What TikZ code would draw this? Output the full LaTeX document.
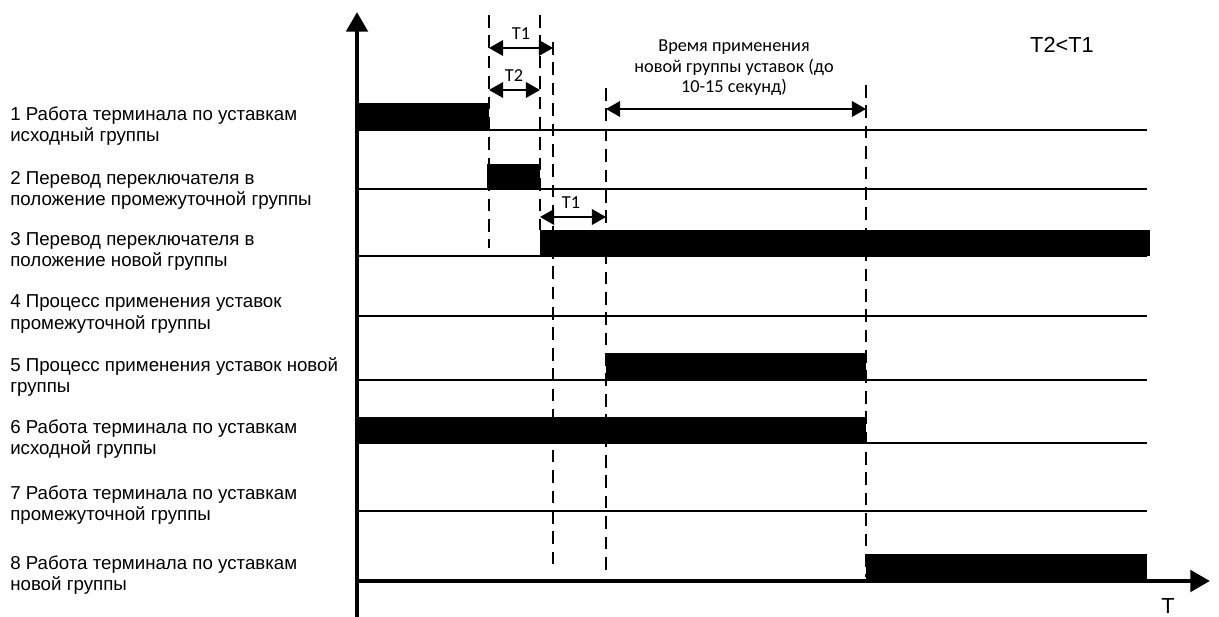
\documentclass[tikz,border=0pt]{standalone}
\usepackage{fontspec}
\setmainfont{Liberation Sans}
\newfontfamily\calfont{Carlito}
\usetikzlibrary{arrows.meta}

\tikzset{
  rowtxt/.style={anchor=west, align=left, inner sep=0pt, font=\fontsize{13.3}{15}\selectfont},
  smalltxt/.style={align=center, inner sep=0pt, font=\calfont\fontsize{13}{14.6}\selectfont},
  timeline/.style={line width=1.3pt},
  marker/.style={line width=1pt, dash pattern=on 9pt off 5.5pt},
  span/.style={line width=1.4pt, {Triangle[length=10pt,width=11pt]}-{Triangle[length=10pt,width=11pt]}},
  axis/.style={line width=3.3pt, -{Triangle[length=14pt,width=15pt]}},
}

\begin{document}
\begin{tikzpicture}[x=0.025cm, y=-0.025cm]
    \useasboundingbox (0,0) rectangle (1219,617);

    % row lines
    \draw[timeline] (357,130) -- (1147,130);
    \draw[timeline] (357,189) -- (1147,189);
    \draw[timeline] (357,256) -- (1147,256);
    \draw[timeline] (357,316) -- (1147,316);
    \draw[timeline] (357,380) -- (1147,380);
    \draw[timeline] (357,443) -- (1147,443);
    \draw[timeline] (357,511) -- (1147,511);

    % active intervals
    \fill (357,103) rectangle (489,130);
    \fill (487,164) rectangle (540,189);
    \fill (540,230) rectangle (1150,256);
    \fill (606,353) rectangle (866,380);
    \fill (357,417) rectangle (866,443);
    \fill (866,554) rectangle (1147,581);

    % time marks
    \draw[marker] (489,15) -- (489,248);
    \draw[marker] (540,15) -- (540,230);
    \draw[marker] (553,42) -- (553,570);
    \draw[marker] (606,88) -- (606,577);
    \draw[marker] (866,85) -- (866,577);

    % axes
    \draw[axis] (357,617) -- (357,12);
    \draw[axis] (355,581) -- (1210,581);

    % spans
    \draw[span] (489,48) -- (553,48);
    \node[smalltxt] (t1a) at (521,34) {T1};
    \draw[span] (489,90) -- (540,90);
    \node[smalltxt] (t2) at (514,76) {T2};
    \draw[span] (540,217) -- (606,217);
    \node[smalltxt] (t1b) at (571,203) {T1};
    \draw[span] (606,109) -- (866,109);
    \node[smalltxt] (apply) at (734,68) {Время применения\\новой группы уставок (до\\10-15 секунд)};

    \node[font=\fontsize{15.5}{18}\selectfont, inner sep=0pt] (cond) at (1062,45) {T2<T1};
    \node[font=\fontsize{15.5}{18}\selectfont, inner sep=0pt] (taxis) at (1168,606) {T};

    % row labels
    \node[rowtxt] (r1) at (10,126) {1 Работа терминала по уставкам\\исходный группы};
    \node[rowtxt] (r2) at (10,190) {2 Перевод переключателя в\\положение промежуточной группы};
    \node[rowtxt] (r3) at (10,251) {3 Перевод переключателя в\\положение новой группы};
    \node[rowtxt] (r4) at (10,314) {4 Процесс применения уставок\\промежуточной группы};
    \node[rowtxt] (r5) at (10,377) {5 Процесс применения уставок новой\\группы};
    \node[rowtxt] (r6) at (10,439) {6 Работа терминала по уставкам\\исходной группы};
    \node[rowtxt] (r7) at (10,505) {7 Работа терминала по уставкам\\промежуточной группы};
    \node[rowtxt] (r8) at (10,575) {8 Работа терминала по уставкам\\новой группы};
\end{tikzpicture}
\end{document}
